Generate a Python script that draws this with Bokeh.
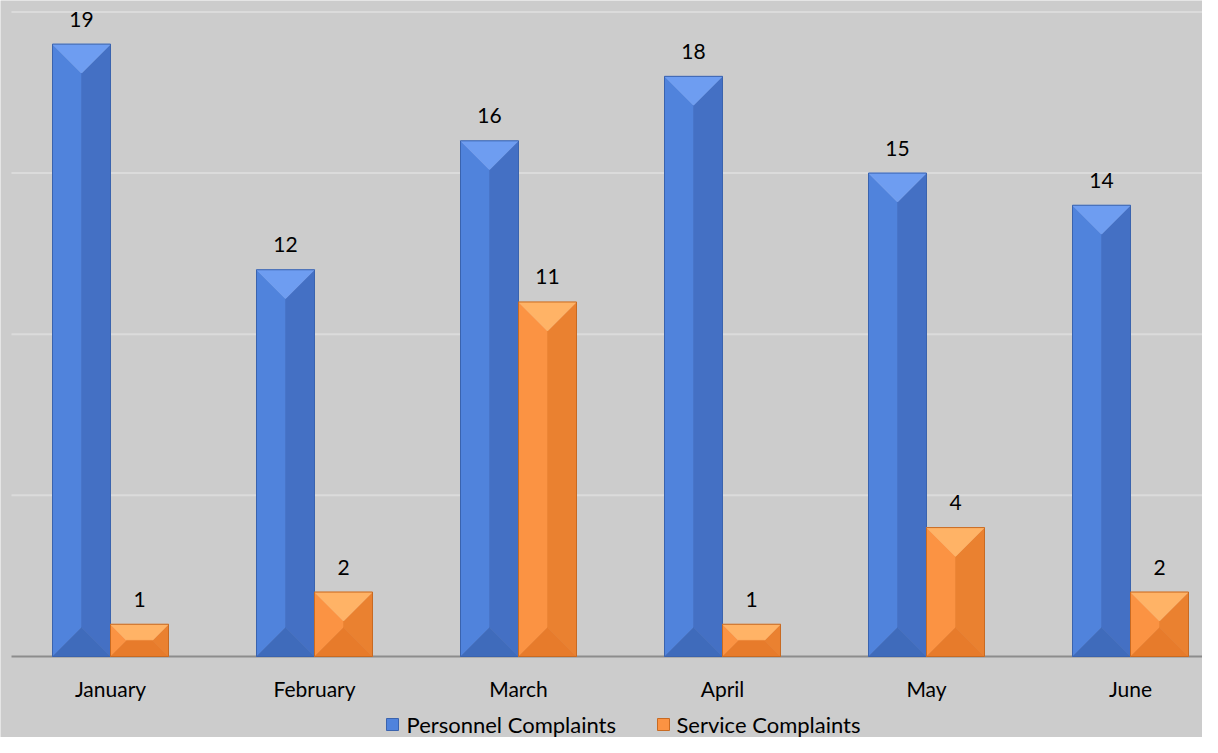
from bokeh.plotting import figure
from bokeh.models import Range1d
from bokeh.core.properties import value
from bokeh.embed import file_html
from bokeh.resources import INLINE

# ---- data ----
months = ["January", "February", "March", "April", "May", "June"]
personnel = [19, 12, 16, 18, 15, 14]
service = [1, 2, 11, 1, 4, 2]
series_names = ["Personnel Complaints", "Service Complaints"]
grid_values = [5, 10, 15, 20]

# ---- layout constants ----
W, H = 1202, 737
PX_X = 204.0      # pixels per category
X_OFF = 8.0       # pixel column of x = 0
PX_Y = 32.23      # pixels per unit
Y0 = 656          # pixel row of value 0 (from top of figure)
BAR_PX = 58.0
bw = BAR_PX / PX_X
FONT = value("Lato")
FS = "21px"
FS_LEG = "22px"


def px_to_x(px):
    return (px - X_OFF) / PX_X


def py_to_y(py):
    return (Y0 - py) / PX_Y


p = figure(width=W, height=H, output_backend="svg", toolbar_location=None,
           x_range=Range1d(px_to_x(0), px_to_x(W)), y_range=Range1d(py_to_y(H), py_to_y(0)),
           x_axis_location=None, y_axis_location=None, min_border=0,
           background_fill_color="#CCCCCC", border_fill_color="#CCCCCC",
           outline_line_color=None)
p.grid.visible = False

x_start = px_to_x(11)
x_end = px_to_x(W)
p.segment(x0=[x_start] * len(grid_values), x1=[x_end] * len(grid_values),
          y0=grid_values, y1=grid_values, line_color="#DBDBDB", line_width=2)
p.segment(x0=[x_start], x1=[x_end], y0=[0], y1=[0], line_color="#8C8C8C", line_width=2)

palettes = [
    dict(top="#6E9DF1", left="#5083DC", right="#4470C4", bottom="#3F6BBB", center="#4A79D0", outline="#3A63AE"),
    dict(top="#FFB366", left="#FB9343", right="#EA8130", bottom="#E77B2B", center="#F48A38", outline="#C86A22"),
]


def faces(x0, x1, v):
    w_px = (x1 - x0) * PX_X
    h_px = v * PX_Y
    d = min(w_px, h_px) / 2.0
    dx = d / PX_X
    dy = d / PX_Y
    ix0, ix1, iy0, iy1 = x0 + dx, x1 - dx, dy, v - dy
    return {
        "top": ([x0, x1, ix1, ix0], [v, v, iy1, iy1]),
        "bottom": ([x0, x1, ix1, ix0], [0, 0, iy0, iy0]),
        "left": ([x0, ix0, ix0, x0], [0, iy0, iy1, v]),
        "right": ([x1, ix1, ix1, x1], [0, iy0, iy1, v]),
        "center": ([ix0, ix1, ix1, ix0], [iy0, iy0, iy1, iy1]),
    }


for s, vals in enumerate([personnel, service]):
    pal = palettes[s]
    xs, ys, cols = [], [], []
    ox, oy = [], []
    for i, v in enumerate(vals):
        c = i + 0.5
        x0, x1 = (c - bw, c) if s == 0 else (c, c + bw)
        f = faces(x0, x1, v)
        for k in ["center", "left", "right", "top", "bottom"]:
            xs.append(f[k][0]); ys.append(f[k][1]); cols.append(pal[k])
        ox.append([x0, x1, x1, x0]); oy.append([0, 0, v, v])
    p.patches(xs=xs, ys=ys, fill_color=cols, line_color=cols, line_width=0.5)
    p.patches(xs=ox, ys=oy, fill_color=None, line_color=pal["outline"], line_width=1)
    # value labels
    lx = [(i + 0.5 - bw / 2) if s == 0 else (i + 0.5 + bw / 2) for i in range(len(vals))]
    ly = [v + 25 / PX_Y for v in vals]
    p.text(x=lx, y=ly, text=[str(v) for v in vals], text_align="center",
           text_baseline="middle", text_font=FONT, text_font_size=FS, text_color="#000000")

# category labels
p.text(x=[i + 0.5 for i in range(len(months))], y=[py_to_y(688)] * len(months),
       text=months, text_align="center", text_baseline="middle",
       text_font=FONT, text_font_size=FS, text_color="#000000")

# legend
leg_y = py_to_y(724)
mk_x = [px_to_x(392), px_to_x(663)]
tx_x = [px_to_x(406), px_to_x(676)]
p.scatter(x=mk_x, y=[leg_y] * 2, marker="square", size=12,
          fill_color=[palettes[0]["left"], palettes[1]["left"]],
          line_color=[palettes[0]["outline"], palettes[1]["outline"]], line_width=1)
p.text(x=tx_x, y=[leg_y] * 2, text=series_names, text_align="left", text_baseline="middle",
       text_font=FONT, text_font_size=FS_LEG, text_color="#000000")

open("out.html", "w").write(file_html(p, INLINE))
